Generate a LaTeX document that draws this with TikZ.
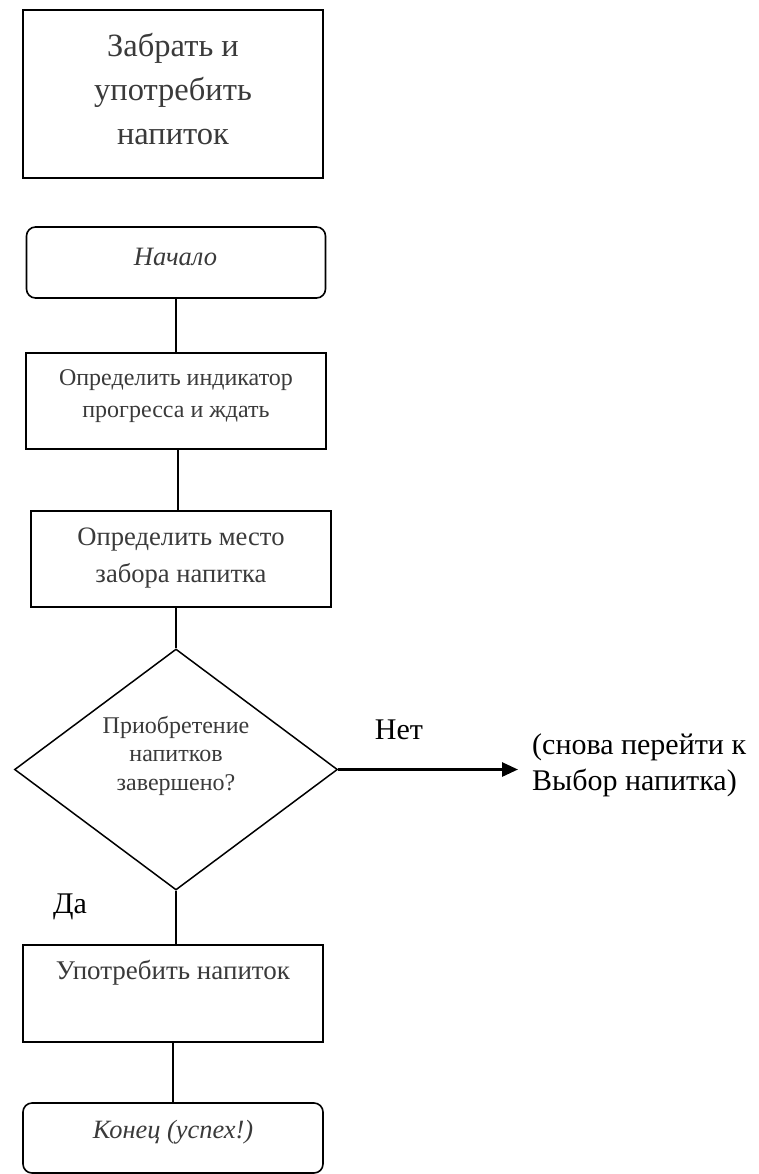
\documentclass[tikz,border=0pt]{standalone}
\usepackage{fontspec}
\setmainfont{Liberation Serif}
\usetikzlibrary{shapes.geometric,arrows.meta}
\definecolor{txtgray}{HTML}{3A3A3A}
\tikzset{
  box/.style={draw=black, line width=1.6pt, minimum width=300pt, inner sep=0pt},
  term/.style={box, rounded corners=9pt},
  dia/.style={draw=black, line width=1.5pt, diamond, minimum width=323pt, minimum height=241pt, inner sep=0pt, aspect=1.34},
  lbl/.style={text=txtgray, align=center, inner sep=0pt, font=\fontsize{24}{32}\selectfont},
  conn/.style={draw=black, line width=1.6pt},
  plain/.style={text=black, inner sep=0pt, font=\fontsize{30}{36}\selectfont}
}
\begin{document}
\begin{tikzpicture}[x=1pt,y=-1pt]
\useasboundingbox[fill=white] (0,0) rectangle (759,1174);
% boxes
\node[box, minimum height=168pt] (take) at (173,94) {};
\node[lbl, font=\fontsize{32.5}{44}\selectfont] (taket) at (173,89) {Забрать и\\употребить\\напиток};
\node[term, minimum width=299pt, minimum height=71pt] (start) at (176,262.5) {};
\node[lbl, font=\fontsize{26.5}{32}\selectfont\itshape] (startt) at (175.5,257) {Начало};
\node[box, minimum height=96pt] (ind) at (176,401) {};
\node[lbl] (indt) at (176,396) {Определить индикатор\\прогресса и ждать};
\node[box, minimum height=96pt] (place) at (181,559) {};
\node[lbl, font=\fontsize{26.6}{37}\selectfont] (placet) at (181,558) {Определить место\\забора напитка};
\node[dia] (dec) at (176,769.5) {};
\node[lbl, font=\fontsize{24}{28.5}\selectfont] (dect) at (176,755.5) {Приобретение\\напитков\\завершено?};
\node[box, minimum height=97pt] (drink) at (173,993.5) {};
\node[lbl, font=\fontsize{27}{32}\selectfont] (drinkt) at (173,973) {Употребить напиток};
\node[term, minimum height=70pt] (end) at (173,1138) {};
\node[lbl, font=\fontsize{26.4}{32}\selectfont\itshape] (endt) at (173,1132) {Конец (успех!)};
% connectors
\draw[conn] (start.south) -- (start.south |- ind.north);
\draw[conn] (ind.south) ++(2,0) coordinate (a1) -- (a1 |- place.north);
\draw[conn] (dec.north |- place.south) -- (dec.north);
\draw[conn] (dec.south) -- (dec.south |- drink.north);
\draw[conn] (drink.south) -- (drink.south |- end.north);
\coordinate (tgt) at (518,769.5);
\draw[conn, line width=2.8pt, -{Triangle[length=16pt,width=14pt]}] (dec.east) -- (tgt);
\node[plain] (no) at (399,730) {Нет};
\node[plain] (yes) at (70,907) {Да};
\node[plain, align=left, anchor=west] (back) at (532,765) {(снова перейти к\\Выбор напитка)};
\end{tikzpicture}
\end{document}
